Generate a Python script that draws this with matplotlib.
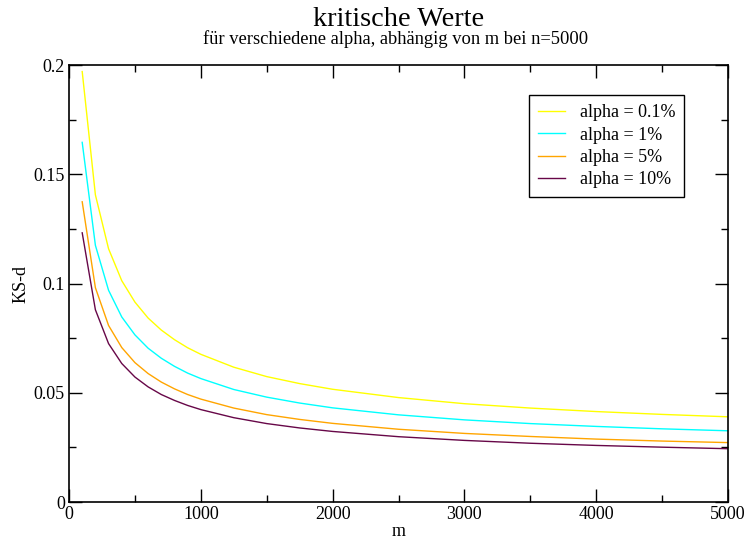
import numpy as np
import matplotlib.pyplot as plt
from matplotlib.ticker import MultipleLocator, FuncFormatter

plt.rcParams['font.family'] = ['Liberation Serif', 'DejaVu Serif']

# m values (n = 5000) and critical KS-d
m = [100, 200, 300, 400, 500, 600, 700, 800, 900, 1000,
     1250, 1500, 1750, 2000, 2500, 3000, 3500, 4000, 4500, 5000]
d_01 = [0.1970, 0.1406, 0.1159, 0.1013, 0.0915, 0.0842, 0.0787, 0.0743, 0.0706, 0.0676,
        0.0617, 0.0574, 0.0542, 0.0516, 0.0478, 0.0450, 0.0430, 0.0414, 0.0401, 0.0390]
d_1 = [0.1646, 0.1175, 0.0969, 0.0847, 0.0765, 0.0704, 0.0658, 0.0621, 0.0590, 0.0565,
       0.0515, 0.0480, 0.0453, 0.0431, 0.0399, 0.0376, 0.0359, 0.0346, 0.0335, 0.0326]
d_5 = [0.1374, 0.0981, 0.0808, 0.0707, 0.0638, 0.0588, 0.0549, 0.0518, 0.0492, 0.0471,
       0.0430, 0.0400, 0.0378, 0.0360, 0.0333, 0.0314, 0.0300, 0.0288, 0.0279, 0.0272]
d_10 = [0.1232, 0.0880, 0.0725, 0.0634, 0.0572, 0.0527, 0.0492, 0.0465, 0.0442, 0.0423,
        0.0386, 0.0359, 0.0339, 0.0323, 0.0299, 0.0282, 0.0269, 0.0259, 0.0251, 0.0244]

labels = ['alpha = 0.1%', 'alpha = 1%', 'alpha = 5%', 'alpha = 10%']
colors = ['#ffff00', '#00ffff', '#ffa500', '#670748']

fig = plt.figure(figsize=(7.47, 5.39), dpi=100)
ax = fig.add_axes([0.0924, 0.0686, 0.8822, 0.8108])

for d, lab, col in zip([d_01, d_1, d_5, d_10], labels, colors):
    ax.plot(m, d, color=col, linewidth=1, label=lab)

ax.set_xlim(0, 5000)
ax.set_ylim(0, 0.2)
ax.xaxis.set_major_locator(MultipleLocator(1000))
ax.xaxis.set_minor_locator(MultipleLocator(500))
ax.yaxis.set_major_locator(MultipleLocator(0.05))
ax.yaxis.set_minor_locator(MultipleLocator(0.025))
ax.yaxis.set_major_formatter(FuncFormatter(lambda v, p: '%g' % v))

fontsize = 13
ax.tick_params(axis='both', which='major', direction='in', length=9.5, width=1,
               labelsize=fontsize, top=True, right=True, pad=3)
ax.tick_params(axis='both', which='minor', direction='in', length=5, width=1,
               top=True, right=True)
for axis in ['top', 'bottom', 'left', 'right']:
    ax.spines[axis].set_linewidth(1.2)

ax.set_xlabel('m', fontsize=fontsize, labelpad=0)
ax.set_ylabel('KS-d', fontsize=fontsize, labelpad=3)

fig.text(0.533, 0.952, 'kritische Werte', ha='center', va='baseline', fontsize=20.3)
fig.text(0.529, 0.918, 'für verschiedene alpha, abhängig von m bei n=5000',
         ha='center', va='baseline', fontsize=13.3)

leg = ax.legend(loc='upper left', bbox_to_anchor=(0.698, 0.931), borderaxespad=0,
                fontsize=fontsize, frameon=True, fancybox=False, edgecolor='black',
                framealpha=1, handlelength=1.5, handletextpad=0.8, borderpad=0.5,
                labelspacing=0.3)
leg.get_frame().set_linewidth(1)

fig.savefig('out.png', dpi=100)
